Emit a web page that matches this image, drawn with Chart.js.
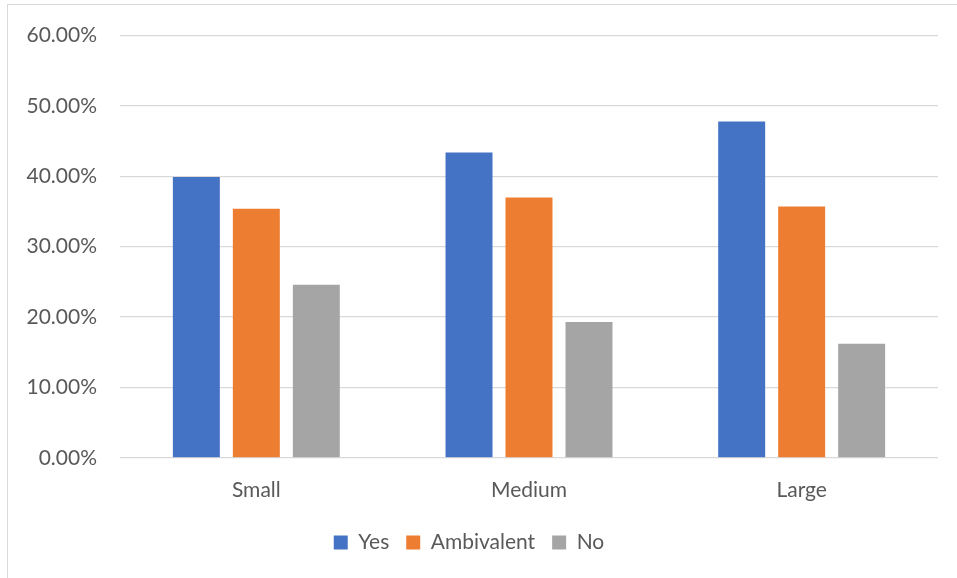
<!DOCTYPE html>
<html>
<head>
<meta charset="utf-8">
<script src="https://cdn.jsdelivr.net/npm/chart.js@4"></script>
<style>
  html, body { margin: 0; padding: 0; background: #fff; }
  #frame {
    position: absolute; left: 7px; top: 4px;
    width: 980px; height: 600px;
    border-left: 1px solid #d9d9d9; border-top: 1px solid #d9d9d9;
  }
  #chart { position: absolute; left: 0; top: 0; }
</style>
</head>
<body>
<div id="frame"></div>
<canvas id="chart" width="957" height="578"></canvas>
<script>
const categories = ['Small', 'Medium', 'Large'];
const yesValues = [39.9, 43.4, 47.8];
const ambivalentValues = [35.4, 37.0, 35.7];
const noValues = [24.6, 19.3, 16.2];
const yTicks = [0, 10, 20, 30, 40, 50, 60];

const blue = '#4472C4';
const orange = '#ED7D31';
const gray = '#A5A5A5';
const textCol = '#595959';
const gridCol = '#d9d9d9';

Chart.defaults.font.family = "Lato, 'Open Sans', sans-serif";
Chart.defaults.font.size = 21;
Chart.defaults.color = textCol;

const barOpts = { categoryPercentage: 0.66, barPercentage: 0.783 };

new Chart(document.getElementById('chart'), {
    type: 'bar',
    data: {
        labels: categories,
        datasets: [
            { label: 'Yes', data: yesValues, backgroundColor: blue, ...barOpts },
            { label: 'Ambivalent', data: ambivalentValues, backgroundColor: orange, ...barOpts },
            { label: 'No', data: noValues, backgroundColor: gray, ...barOpts }
        ]
    },
    options: {
        responsive: false,
        animation: false,
        layout: { padding: { top: 33, right: 19, bottom: 15, left: 0 } },
        plugins: {
            legend: {
                position: 'bottom',
                labels: {
                    boxWidth: 14,
                    boxHeight: 14,
                    padding: 17,
                    color: textCol
                }
            },
            tooltip: { enabled: false }
        },
        scales: {
            x: {
                grid: { display: false },
                border: { display: false },
                ticks: { padding: 12, color: textCol }
            },
            y: {
                min: 0,
                max: 60,
                afterBuildTicks: axis => { axis.ticks = yTicks.map(v => ({ value: v })); },
                afterFit: axis => { axis.width = 120; },
                grid: { color: gridCol, lineWidth: 1.3, drawTicks: false },
                border: { display: false },
                ticks: {
                    padding: 23,
                    color: textCol,
                    callback: v => v.toFixed(2) + '%'
                }
            }
        }
    }
});
</script>
</body>
</html>
